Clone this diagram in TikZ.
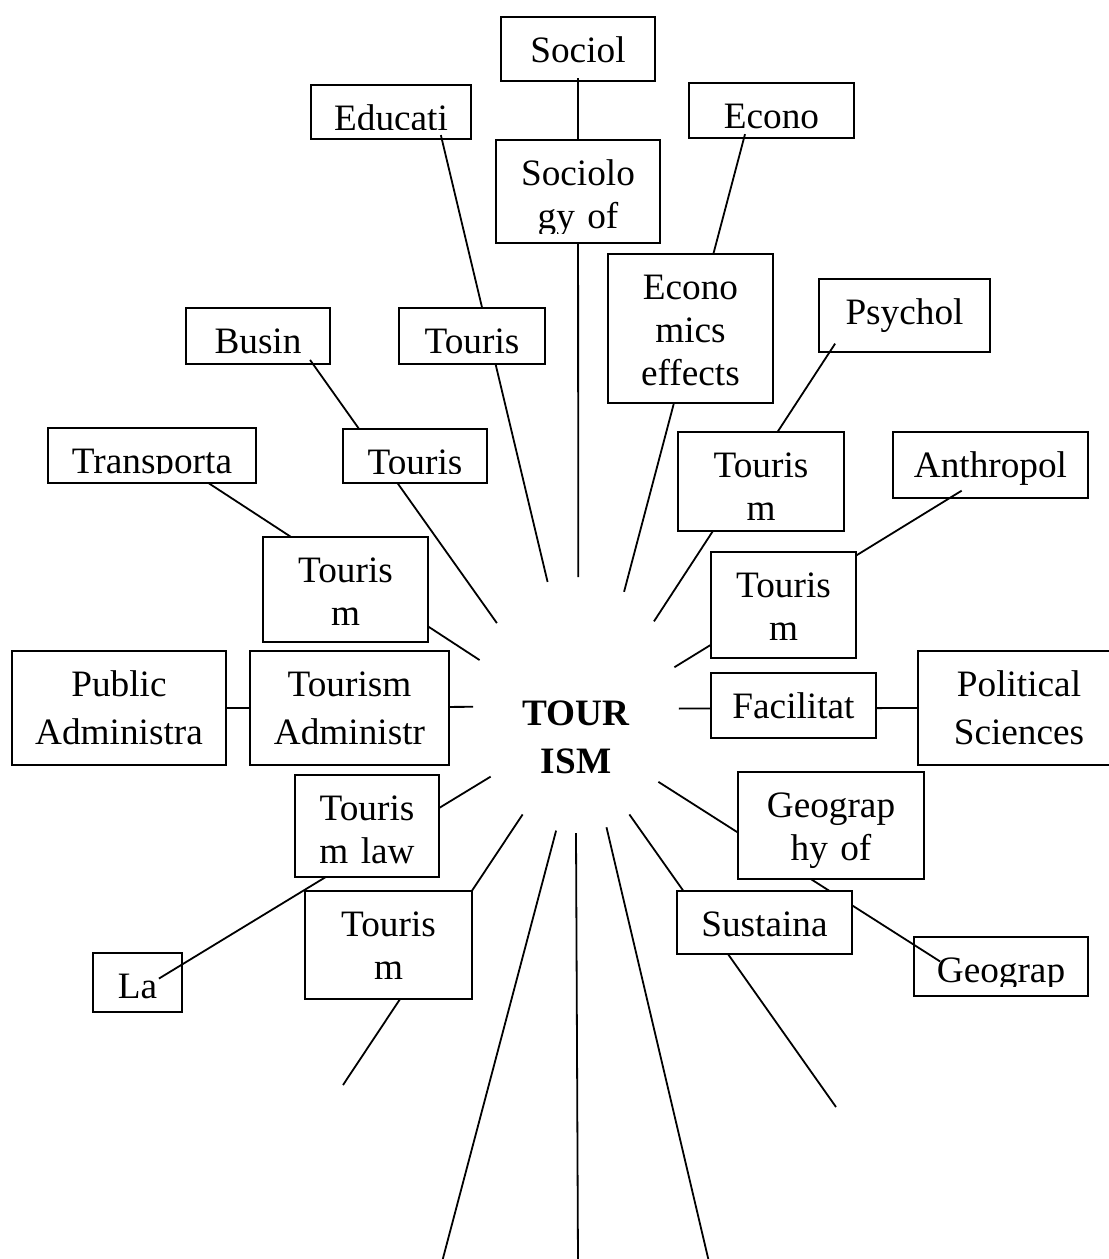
\documentclass[tikz,border=0pt]{standalone}
\usepackage{fontspec}
\setmainfont{Liberation Serif}
\usetikzlibrary{shapes.geometric}
% topic frame hung from its top centre; the label is cut off like in a text frame
\newcommand{\topicbox}[7]{%
  \node[box, minimum width=#4*0.25mm, minimum height=#5*0.25mm] (#1) at (#2,#3) {};
  \begin{scope}
    \clip (#1.north west) rectangle ([yshift=2.5mm]#1.south east);
    \node[lbl, text width=#4*0.25mm, font=\fontsize{26.5pt}{#6}\selectfont] (#1-t) at ([yshift=-11.25mm]#1.north) {#7};
  \end{scope}}

\begin{document}
\begin{tikzpicture}[x=0.25mm, y=-0.25mm,
  box/.style={draw, fill=white, line width=0.55mm, inner sep=0pt, outer sep=0pt, anchor=north},
  lbl/.style={anchor=base, align=center, inner sep=0pt},
  spoke/.style={line width=0.45mm},
  hub/.style={ellipse, minimum width=51.5mm, minimum height=64mm, inner sep=0pt, outer sep=0pt, align=center, text width=30mm, text height=15mm, text depth=5mm, font=\fontsize{26.5pt}{12mm}\selectfont\bfseries}]
  \useasboundingbox (0,0) rectangle (1109,1259);
  \node[hub] (hub) at (576,705) {TOUR\\ISM};
  % ---- outer topics ----
  \foreach \n/\x/\y/\w/\h/\k/\t in {sociol/578/17/154/64/10.75mm/Sociol, educ/391/85/160/54/10.75mm/Educati,
    econo/771.5/83/165/55/10.75mm/Econo, psych/904.5/279/171/73/10.75mm/Psychol,
    busin/258/308/144/56/10.75mm/Busin, trans/152/428/208/55/10.75mm/Transporta,
    anthro/990.5/432/195/66/10.75mm/Anthropol, pub/119/651/214/114/12mm/Public\\Administra,
    pol/1019/651/202/114/12mm/Political\\Sciences, la/137.5/953/89/59/10.75mm/La,
    geog/1001/937/174/59/10.75mm/Geograp}
    { \topicbox{\n}{\x}{\y}{\w}{\h}{\k}{\t} }
  % ---- spokes ----
  \foreach \c/\x/\y in {tail1/343/1085, tail2/442/1262, tail3/578/1262, tail4/709/1262, tail5/836/1107} { \coordinate (\c) at (\x,\y); }
  \foreach \a/\e/\s in {89.1/sociol.south/3, 103.3/educ.-28.9/4, 134.6/busin.-27/5, 155.8/trans.-26.6/0,
    181.7/pub.east/0, 220/la.22.6/27, 244.1/tail1/0, 261.5/tail2/0, 270.9/tail3/0, 284.1/tail4/0,
    296.1/tail5/0, 317.9/geog.166.7/31, 358.3/pol.west/0, 21.4/anthro.219.9/14, 47.9/psych.206/10,
    67.8/econo.225/4}
    { \draw[spoke, shorten >=-\s*0.25mm] (hub.\a) -- (\e); }
  % ---- inner topics ----
  \foreach \n/\x/\y/\w/\h/\k/\t in {sociog/578/140/164/103/10.75mm/Sociolo\\gy of,
    econfx/690.5/254/165/149/10.75mm/Econo\\mics\\effects, tour1/472/308/146/56/10.75mm/Touris,
    tour2/415/429/144/54/10.75mm/Touris, tm1/345.5/537/165/105/10.75mm/Touris\\m,
    tm4/761/432/166/99/10.75mm/Touris\\m, tm5/783.5/552/145/106/10.75mm/Touris\\m,
    tadm/349.5/651/199/114/12mm/Tourism\\Administr, facil/793.5/673/165/65/10.75mm/Facilitat,
    tmlaw/367/775/144/102/10.75mm/Touris\\m law, tm3/388.5/891/167/108/10.75mm/Touris\\m,
    geohy/831/772/186/107/10.75mm/Geograp\\hy of, sust/764.5/891/175/63/10.75mm/Sustaina}
    { \topicbox{\n}{\x}{\y}{\w}{\h}{\k}{\t} }
\end{tikzpicture}
\end{document}
